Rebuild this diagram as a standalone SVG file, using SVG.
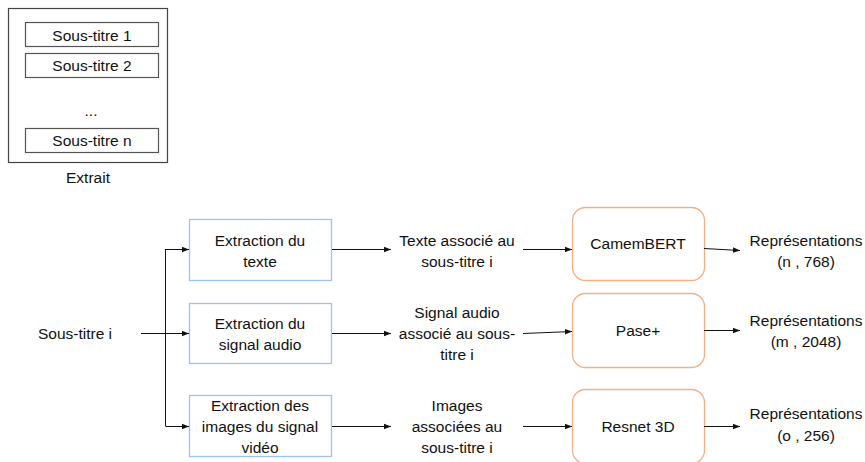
<svg xmlns="http://www.w3.org/2000/svg" width="865" height="462" viewBox="0 0 865 462">
<style>
text{font-family:"Liberation Sans",Arial,sans-serif;font-size:15.5px;fill:#111;text-anchor:middle;dominant-baseline:central}
.gray{fill:#fff;stroke:#555;stroke-width:1.2}
.blue{fill:#fff;stroke:#9DC3E6;stroke-width:1.3}
.orange{fill:#fff;stroke:#F4B183;stroke-width:1.3}
.ln{fill:none;stroke:#111;stroke-width:1}
</style>
<defs>
<marker id="ah" viewBox="0 0 10 10" refX="10" refY="5" markerWidth="7" markerHeight="7" markerUnits="userSpaceOnUse" orient="auto">
<path d="M0,1 L10,5 L0,9 z" fill="#111"/>
</marker>
</defs>
<rect width="865" height="462" fill="#fff"/>
<g id="extrait">
<rect class="gray" x="8.5" y="8.5" width="159" height="154" style="stroke:#444"/>
<rect class="gray" x="25.5" y="22.5" width="133" height="24"/>
<text x="92" y="35">Sous-titre 1</text>
<rect class="gray" x="25.5" y="53.5" width="133" height="24"/>
<text x="92" y="65">Sous-titre 2</text>
<text x="91" y="110">...</text>
<rect class="gray" x="25.5" y="128.5" width="133" height="24"/>
<text x="92" y="140">Sous-titre n</text>
<text x="88" y="177">Extrait</text>
</g>
<g id="sous-titre-i"><text x="75" y="333">Sous-titre i</text></g>
<g id="ext-texte">
<rect class="blue" x="189.5" y="219.5" width="142" height="61"/>
<text x="260" y="240">Extraction du</text><text x="260" y="261">texte</text>
</g>
<g id="ext-audio">
<rect class="blue" x="189.5" y="303.5" width="142" height="60"/>
<text x="260" y="323">Extraction du</text><text x="260" y="344">signal audio</text>
</g>
<g id="ext-video">
<rect class="blue" x="189.5" y="395.5" width="142" height="61"/>
<text x="260" y="405">Extraction des</text><text x="260" y="426">images du signal</text><text x="260" y="447">vidéo</text>
</g>
<g id="txt-texte"><text x="457" y="240">Texte associé au</text><text x="457" y="261">sous-titre i</text></g>
<g id="txt-audio"><text x="457" y="312">Signal audio</text><text x="457" y="333">associé au sous-</text><text x="457" y="354">titre i</text></g>
<g id="txt-images"><text x="457" y="405">Images</text><text x="457" y="426">associées au</text><text x="457" y="447">sous-titre i</text></g>
<g id="camembert"><rect class="orange" x="572.5" y="207.5" width="132" height="73" rx="13"/><text x="638" y="243">CamemBERT</text></g>
<g id="pase"><rect class="orange" x="572.5" y="293.5" width="132" height="74" rx="13"/><text x="638" y="330">Pase+</text></g>
<g id="resnet"><rect class="orange" x="572.5" y="389.5" width="132" height="74" rx="13"/><text x="638" y="426">Resnet 3D</text></g>
<g id="rep1"><text x="806" y="240">Représentations</text><text x="806" y="261">(n , 768)</text></g>
<g id="rep2"><text x="806" y="320">Représentations</text><text x="806" y="341">(m , 2048)</text></g>
<g id="rep3"><text x="806" y="413">Représentations</text><text x="806" y="435">(o , 256)</text></g>
<g id="connectors">
<path class="ln" d="M141,333.5 H165.5"/>
<path class="ln" d="M165.5,249 V426"/>
<path class="ln" d="M165.5,249.5 H189" marker-end="url(#ah)"/>
<path class="ln" d="M165.5,333.5 H189" marker-end="url(#ah)"/>
<path class="ln" d="M165.5,426.5 H189" marker-end="url(#ah)"/>
<path class="ln" d="M332,249.5 H391" marker-end="url(#ah)"/>
<path class="ln" d="M332,333.5 H391" marker-end="url(#ah)"/>
<path class="ln" d="M332,426.5 H391" marker-end="url(#ah)"/>
<path class="ln" d="M523,249.5 H572" marker-end="url(#ah)"/>
<path class="ln" d="M523,333.5 L572,331.5" marker-end="url(#ah)"/>
<path class="ln" d="M523,426.5 H572" marker-end="url(#ah)"/>
<path class="ln" d="M704,248.5 L740,250.5" marker-end="url(#ah)"/>
<path class="ln" d="M704,330.5 H740" marker-end="url(#ah)"/>
<path class="ln" d="M704,426.5 H740" marker-end="url(#ah)"/>
</g>
</svg>
